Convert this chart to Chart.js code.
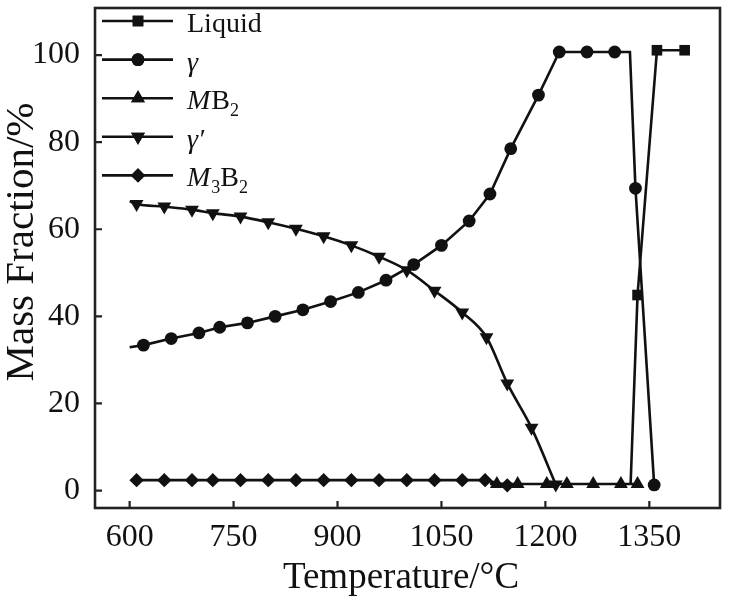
<!DOCTYPE html>
<html>
<head>
<meta charset="utf-8">
<script src="https://cdn.jsdelivr.net/npm/chart.js@4.4.1/dist/chart.umd.min.js"></script>
<style>
    html, body { margin: 0; padding: 0; background: #fff; }
    #wrap { width: 735px; height: 611px; }
</style>
</head>
<body>
<div id="wrap"><canvas id="phaseChart"></canvas></div>
<script>
// tick labels and axis titles
const xTicks = [600, 750, 900, 1050, 1200, 1350];
const yTicks = [0, 20, 40, 60, 80, 100];
const xTitle = 'Temperature/°C';
const yTitle = 'Mass Fraction/%';

// series (temperature in degC, mass fraction in %)
const liquidT = [1323, 1333, 1361, 1401];
const liquidV = [1.5, 44.9, 101.1, 101.1];

const gammaT = [600, 620, 660, 700, 730, 770, 810, 850, 890, 930, 970, 1010, 1050, 1090, 1120, 1150, 1190, 1220, 1260, 1300, 1322, 1330, 1357];
const gammaV = [32.9, 33.4, 34.9, 36.2, 37.5, 38.5, 40.0, 41.5, 43.4, 45.5, 48.3, 51.9, 56.3, 61.9, 68.1, 78.5, 90.8, 100.7, 100.7, 100.7, 100.7, 69.4, 1.3];

const mb2T = [1120, 1130, 1160, 1202, 1231, 1269, 1309, 1333];
const mb2V = [1.5, 1.5, 1.5, 1.5, 1.5, 1.5, 1.5, 1.5];

const gammaPrimeT = [600, 610, 650, 690, 720, 760, 800, 840, 880, 920, 960, 1000, 1040, 1080, 1115, 1145, 1180, 1215];
const gammaPrimeV = [66.4, 65.8, 65.2, 64.5, 63.7, 62.9, 61.6, 60.1, 58.4, 56.3, 53.7, 50.6, 45.9, 40.9, 35.2, 24.6, 14.4, 1.4];

const m3b2T = [610, 650, 690, 720, 760, 800, 840, 880, 920, 960, 1000, 1040, 1080, 1113, 1145];
const m3b2V = [2.4, 2.4, 2.4, 2.4, 2.4, 2.4, 2.4, 2.4, 2.4, 2.4, 2.4, 2.4, 2.4, 2.4, 1.2];

// points on the curves that carry no marker
const liquidBare = [1323];
const gammaBare = [600, 1322];
const mb2Bare = [1120];
const gammaPrimeBare = [600];

const serif = '"Liberation Serif", "Times New Roman", serif';
const ink = '#111';

function toPoints(ts, vs) {
    return ts.map((t, i) => ({x: t, y: vs[i]}));
}

function radii(ts, bare, r) {
    return ts.map(t => (bare.includes(t) ? 0 : r));
}

function series(label, ts, vs, bare, style, r, rotation, smooth) {
    return {
        label: label,
        data: toPoints(ts, vs),
        borderColor: ink,
        backgroundColor: ink,
        borderWidth: 2.6,
        pointStyle: style,
        pointRotation: rotation,
        pointRadius: radii(ts, bare, r),
        pointHoverRadius: radii(ts, bare, r),
        pointBorderWidth: 0,
        cubicInterpolationMode: smooth ? 'monotone' : 'default',
        tension: 0,
        fill: false
    };
}

const datasets = [
    series('Liquid', liquidT, liquidV, liquidBare, 'rect', 7.5, 0, false),
    series('γ', gammaT, gammaV, gammaBare, 'circle', 6.4, 0, false),
    series('MB2', mb2T, mb2V, mb2Bare, 'triangle', 8, 0, false),
    series('γ′', gammaPrimeT, gammaPrimeV, gammaPrimeBare, 'triangle', 8, 180, true),
    series('M3B2', m3b2T, m3b2V, [], 'rectRot', 7.2, 0, false)
];

// legend text pieces: [text, kind] where kind is n(ormal), i(talic) or s(ubscript)
const legendParts = [
    [['Liquid', 'n']],
    [['γ', 'i']],
    [['M', 'i'], ['B', 'n'], ['2', 's']],
    [['γ′', 'i']],
    [['M', 'i'], ['3', 's'], ['B', 'n'], ['2', 's']]
];

const framePlugin = {
    id: 'framePlugin',
    afterDraw(chart) {
        const ctx = chart.ctx;
        const a = chart.chartArea;
        const xs = chart.scales.x;
        const ys = chart.scales.y;
        ctx.save();
        ctx.strokeStyle = '#222';
        ctx.lineWidth = 2.6;
        ctx.strokeRect(a.left, a.top, a.right - a.left, a.bottom - a.top);

        // inward tick marks
        ctx.lineWidth = 2.2;
        ctx.beginPath();
        xTicks.forEach(v => {
            const px = xs.getPixelForValue(v);
            ctx.moveTo(px, a.bottom);
            ctx.lineTo(px, a.bottom - 7);
        });
        yTicks.forEach(v => {
            const py = ys.getPixelForValue(v);
            ctx.moveTo(a.left, py);
            ctx.lineTo(a.left + 7, py);
        });
        ctx.stroke();

        // axis titles
        ctx.fillStyle = ink;
        ctx.textAlign = 'center';
        ctx.textBaseline = 'middle';
        ctx.font = '37px ' + serif;
        ctx.fillText(xTitle, 401, 578);
        ctx.save();
        ctx.translate(22, 242);
        ctx.rotate(-Math.PI / 2);
        ctx.font = '41px ' + serif;
        ctx.fillText(yTitle, 0, 0);
        ctx.restore();
        ctx.textAlign = 'left';

        // legend
        const lx0 = a.left + 7, lx1 = a.left + 78, mx = a.left + 43;
        const tx = a.left + 92;
        legendParts.forEach((parts, i) => {
            const ds = chart.data.datasets[i];
            const ly = a.top + 13 + i * 38.6;
            ctx.strokeStyle = ink;
            ctx.lineWidth = 2.6;
            ctx.beginPath();
            ctx.moveTo(lx0, ly);
            ctx.lineTo(lx1, ly);
            ctx.stroke();
            ctx.fillStyle = ink;
            Chart.helpers.drawPoint(ctx, {
                pointStyle: ds.pointStyle,
                radius: Math.max(...ds.pointRadius),
                rotation: ds.pointRotation,
                borderWidth: 0
            }, mx, ly);
            ctx.fill();

            let x = tx;
            const base = ly + 11;
            parts.forEach(([t, kind]) => {
                if (kind === 'i') ctx.font = 'italic 28px ' + serif;
                else if (kind === 's') ctx.font = '18px ' + serif;
                else ctx.font = '28px ' + serif;
                ctx.textBaseline = 'alphabetic';
                ctx.fillText(t, x, kind === 's' ? base + 7 : base);
                x += ctx.measureText(t).width + (kind === 'i' ? 1 : 0);
            });
        });
        ctx.restore();
    }
};

new Chart(document.getElementById('phaseChart').getContext('2d'), {
    type: 'line',
    data: { datasets: datasets },
    plugins: [framePlugin],
    options: {
        responsive: true,
        maintainAspectRatio: false,
        animation: false,
        layout: { padding: { left: 0, right: 15, top: 2, bottom: 0 } },
        plugins: {
            legend: { display: false },
            tooltip: { enabled: false }
        },
        scales: {
            x: {
                type: 'linear',
                min: 550,
                max: 1452,
                afterBuildTicks: s => { s.ticks = xTicks.map(v => ({value: v})); },
                afterFit: s => { s.height = 103; s.paddingLeft = 0; s.paddingRight = 0; },
                grid: { display: false },
                border: { display: false },
                ticks: {
                    color: ink,
                    padding: 2,
                    maxRotation: 0,
                    font: { family: serif, size: 32 },
                    callback: v => String(v)
                }
            },
            y: {
                min: -4,
                max: 110.8,
                afterBuildTicks: s => { s.ticks = yTicks.map(v => ({value: v})); },
                afterFit: s => { s.width = 95; s.paddingTop = 0; s.paddingBottom = 0; },
                grid: { display: false },
                border: { display: false },
                ticks: {
                    color: ink,
                    padding: 7,
                    font: { family: serif, size: 32 },
                    callback: v => String(v)
                }
            }
        }
    }
});
</script>
</body>
</html>
